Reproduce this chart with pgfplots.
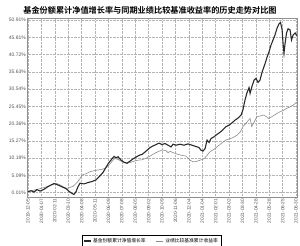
\documentclass[border=0pt]{standalone}
\usepackage{pgfplots}
\pgfplotsset{compat=1.18}
\usepackage{fontspec}
\setmainfont{Liberation Sans}
\newfontfamily\cjk{Noto Sans CJK SC}
\newfontfamily\cjkb{Noto Sans CJK SC Bold}
\definecolor{fundc}{HTML}{2A2A2A}
\definecolor{benchc}{HTML}{8C8C8C}
\definecolor{gridc}{HTML}{B4B4B4}
\definecolor{labc}{HTML}{555555}
\begin{document}
\begin{tikzpicture}
\path[use as bounding box] (-27.5bp,-49bp) rectangle (272.5bp,197bp);
\begin{axis}[
  at={(0,0)}, anchor=south west,
  scale only axis, width=269.5bp, height=178.5bp,
  xmin=-0.04, xmax=20.07, ymin=-1.26, ymax=51.35,
  xtick={0,1,...,20},
  xticklabels={2019-12-05,2020-01-07,2020-02-11,2020-03-10,2020-04-08,2020-05-11,2020-06-09,2020-07-08,2020-08-05,2020-09-02,2020-10-09,2020-11-06,2020-12-04,2021-01-04,2021-02-01,2021-03-02,2021-03-30,2021-04-28,2021-05-28,2021-06-25,2021-06-30},
  x tick label style={rotate=90, anchor=east, font=\fontsize{4.8}{5}\selectfont, text=labc, inner sep=1.5pt},
  ytick={0.01,5.09,10.18,15.27,20.36,25.45,30.54,35.63,40.72,45.81,50.91},
  yticklabels={0.01\%,5.09\%,10.18\%,15.27\%,20.36\%,25.45\%,30.54\%,35.63\%,40.72\%,45.81\%,50.91\%},
  y tick label style={font=\fontsize{5}{6}\selectfont, text=labc, inner sep=1.5pt},
  major tick length=0pt,
  grid=major,
  major grid style={gridc, densely dotted, line width=0.4pt},
  axis line style={gridc!80!black, line width=0.5pt},
  legend columns=2,
  reverse legend,
  legend style={at={(0.46,-0.2465)}, anchor=center, draw=black, line width=0.4pt,
    font=\cjk\fontsize{4.8}{5}\selectfont, inner sep=1pt,
    /tikz/every even column/.append style={column sep=8pt}},
  legend image code/.code={\draw[#1] (0cm,0cm) -- (7bp,0cm);},
]
\addplot[benchc, line width=0.6pt] coordinates {
(0,0.3)(0.45,0.8)(0.9,1.2)(1.34,1.7)(1.79,2.3)(2.09,2.8)(2.39,2.3)(2.69,1.6)(2.91,1.3)(3.13,1.6)(3.36,1.9)(3.66,3.0)(3.88,4.2)(4.03,5.2)(4.33,5.6)(4.63,6.2)(4.93,6.5)(5.22,6.7)(5.52,6.9)(5.82,7.3)(6.12,8.5)(6.34,9.6)(6.49,10.1)(6.72,9.8)(7.01,9.2)(7.31,8.7)(7.61,8.9)(7.91,9.3)(8.21,9.6)(8.51,9.7)(8.81,10.2)(9.1,10.8)(9.4,11.5)(9.7,12.1)(10.0,12.6)(10.3,12.4)(10.45,11.8)(10.6,12.2)(10.9,11.7)(11.19,11.3)(11.49,11.0)(11.79,10.8)(12.09,9.6)(12.31,9.1)(12.54,9.2)(12.84,9.6)(13.13,10.0)(13.36,11.0)(13.58,12.1)(13.88,12.8)(14.18,13.8)(14.48,14.7)(14.78,15.6)(15.07,15.9)(15.37,16.4)(15.6,17.0)(15.82,17.8)(16.04,19.5)(16.27,20.5)(16.46,21.4)(16.57,21.9)(16.69,19.5)(16.87,20.8)(17.07,22.4)(17.31,22.6)(17.56,22.9)(17.76,22.5)(17.93,21.9)(18.19,22.4)(18.43,23.0)(18.81,23.9)(19.03,24.2)(19.31,24.9)(19.55,25.3)(19.81,25.9)(20.04,26.7)
};
\addplot[fundc, line width=1.1pt] coordinates {
(0.0,0.3)(0.22,0.6)(0.45,0.2)(0.67,0.9)(0.9,0.5)(1.19,1.0)(1.49,1.8)(1.72,2.3)(1.94,2.7)(2.16,2.4)(2.39,2.0)(2.61,1.6)(2.84,1.2)(3.06,0.4)(3.28,-0.2)(3.43,-0.5)(3.58,0.3)(3.73,1.8)(3.88,2.8)(4.18,2.6)(4.48,3.0)(4.78,3.3)(5.07,3.8)(5.37,5.0)(5.6,6.0)(5.82,7.5)(6.04,8.9)(6.27,10.0)(6.42,10.7)(6.57,10.3)(6.72,10.6)(6.94,9.6)(7.16,9.0)(7.39,8.7)(7.61,9.3)(7.84,10.0)(8.06,10.5)(8.28,11.0)(8.51,11.3)(8.73,12.0)(8.96,12.8)(9.1,13.3)(9.33,13.8)(9.55,14.2)(9.78,14.6)(10.0,14.2)(10.22,14.5)(10.45,14.0)(10.67,13.5)(10.82,14.3)(11.04,14.0)(11.34,14.3)(11.64,14.0)(11.94,14.4)(12.24,14.0)(12.54,13.6)(12.76,13.3)(12.91,12.5)(13.06,12.3)(13.21,13.0)(13.36,15.5)(13.51,14.8)(13.66,16.0)(13.88,16.5)(14.1,17.2)(14.33,17.8)(14.55,18.6)(14.78,19.5)(15.0,19.9)(15.22,20.6)(15.45,21.4)(15.67,22.0)(15.9,22.9)(16.04,24.5)(16.19,27.3)(16.34,29.5)(16.49,31.0)(16.57,29.3)(16.72,31.5)(16.87,33.2)(17.01,33.7)(17.16,32.5)(17.31,33.2)(17.46,35.5)(17.69,38.1)(17.84,40.0)(17.99,41.6)(18.13,43.5)(18.28,45.0)(18.43,46.5)(18.58,48.5)(18.73,49.8)(18.84,50.2)(18.96,48.0)(19.03,44.0)(19.1,41.1)(19.18,44.0)(19.29,47.1)(19.4,48.3)(19.55,48.0)(19.66,45.0)(19.78,46.5)(19.93,47.1)(20.05,46.3)
};
\legend{业绩比较基准累计收益率,基金份额累计净值增长率}
\end{axis}
\node[font=\cjkb\fontsize{8.2}{9}\selectfont, anchor=center] at (122.5bp,187bp) {基金份额累计净值增长率与同期业绩比较基准收益率的历史走势对比图};
\end{tikzpicture}
\end{document}
